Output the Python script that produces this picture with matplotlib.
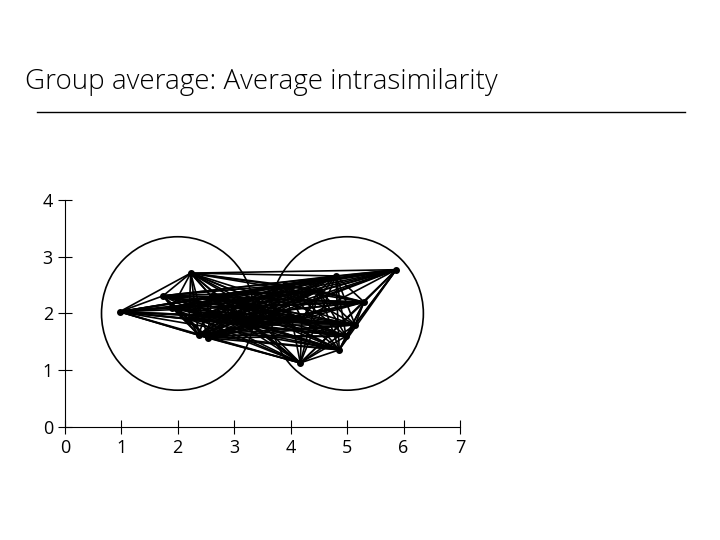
import itertools
import numpy as np
import matplotlib.pyplot as plt
from matplotlib.patches import Circle

# points of the two groups
xs = [0.97, 2.23, 1.74, 2.37, 2.53, 1.9, 2.6, 2.9, 3.1, 2.2, 3.3,
      5.87, 4.8, 4.17, 4.86, 4.98, 5.14, 4.5, 5.3, 4.2, 3.9]
ys = [2.03, 2.71, 2.31, 1.62, 1.57, 2.1, 2.3, 1.95, 2.2, 1.9, 1.8,
      2.77, 2.66, 1.13, 1.36, 1.6, 1.8, 2.4, 2.2, 1.9, 2.5]
centers = [(2.0, 2.0), (5.0, 2.0)]
radius = 1.35

plt.rcParams['font.family'] = ['Open Sans', 'DejaVu Sans']
fig = plt.figure(figsize=(7.2, 5.4), dpi=100)
fig.text(0.035, 0.835, 'Group average: Average intrasimilarity', fontsize=20,
         fontweight='light')
fig.add_artist(plt.Line2D([0.051, 0.951], [0.793, 0.793], color='black', lw=1))

ax = fig.add_axes([0.090, 0.209, 0.549, 0.421])
for i, j in itertools.combinations(range(len(xs)), 2):
    ax.plot([xs[i], xs[j]], [ys[i], ys[j]], color='black', lw=1.2)
ax.plot(xs, ys, 'o', color='black', ms=4)
for c in centers:
    ax.add_patch(Circle(c, radius, fill=False, color='black', lw=1.2))

ax.set_xlim(0, 7)
ax.set_ylim(0, 4)
ax.set_xticks(range(8))
ax.set_yticks(range(5))
ax.tick_params(direction='inout', length=10, labelsize=13)
for s in ['top', 'right']:
    ax.spines[s].set_visible(False)
ax.set_aspect('auto')
fig.savefig('out.png')
